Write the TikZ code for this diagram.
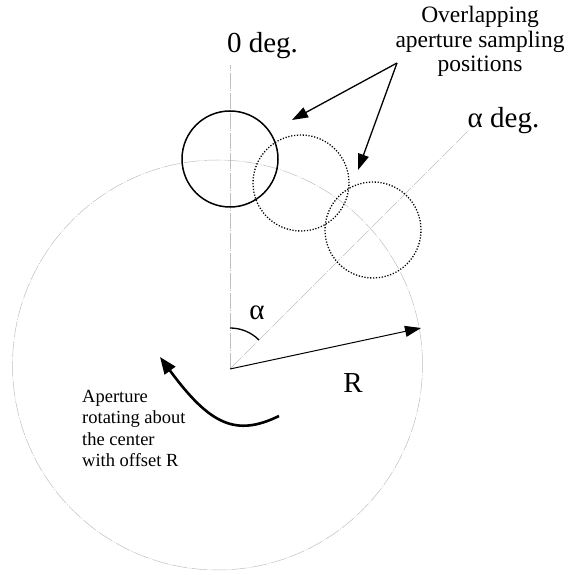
\documentclass[tikz,border=0pt]{standalone}
\usepackage{fontspec}
\setmainfont{Liberation Serif}
\usetikzlibrary{arrows.meta}

\begin{document}
\begin{tikzpicture}[x=1pt, y=1pt,
    guide/.style={draw=gray!50, line width=0.5pt, dash pattern=on 16pt off 1.5pt on 1pt off 1.5pt},
    aperture/.style={circle, draw=black, line width=1.5pt, minimum size=96pt, inner sep=0pt},
    sampling/.style={aperture, line width=1.3pt, dash pattern=on 1.2pt off 1.7pt},
    pointer/.style={-{Triangle[length=16pt, width=11pt]}, line width=1.3pt},
    biglabel/.style={font=\fontsize{29}{32}\selectfont, anchor=base, inner sep=0pt},
    note/.style={inner sep=0pt, anchor=base}
]
\useasboundingbox (0,0) rectangle (569,575);
\coordinate (O) at (230,206);
\coordinate (zend) at (230,510);
\path (O) ++(45:338) coordinate (aend);
\draw[guide] (217.5,210) circle (205);
\draw[guide] (O) -- (zend);
\draw[guide] (O) -- (aend);
\node[aperture] (ap0) at (230,416) {};
\node[sampling] (ap1) at (301,392) {};
\node[sampling] (ap2) at (373,345) {};
\node[biglabel] (zero) at (262.5,522) {0 deg.};
\node[biglabel] (adeg) at (503.5,447) {α deg.};
\node[biglabel] (alpha) at (257,255) {α};
\node[biglabel] (rlab) at (353,182) {R};
\node[note, align=center, font=\fontsize{23.5}{24.5}\selectfont] (ovl) at (480,503)
    {Overlapping\\aperture sampling\\positions};
\node[note, anchor=base west, align=left, font=\fontsize{18.5}{21.5}\selectfont] (rot) at (82,108)
    {Aperture\\rotating about\\the center\\with offset R};
\draw[line width=1.3pt] (O) ++(90:41) arc[start angle=90, end angle=45, radius=41];
\coordinate (rtip) at (421,247);
\draw[pointer, line width=1pt] (O) -- (rtip);
\coordinate (src) at (397,512);
\coordinate (tipA) at (292,455);
\coordinate (tipB) at (358,405);
\draw[pointer] (src) -- (tipA);
\draw[pointer] (src) -- (tipB);
\coordinate (rtail) at (279,159);
\coordinate (rhead) at (160,218);
\draw[-{Triangle[length=17pt, width=13pt]}, line width=2.6pt] (rtail) .. controls (236,138) and (210,150) .. (rhead);
\end{tikzpicture}
\end{document}
